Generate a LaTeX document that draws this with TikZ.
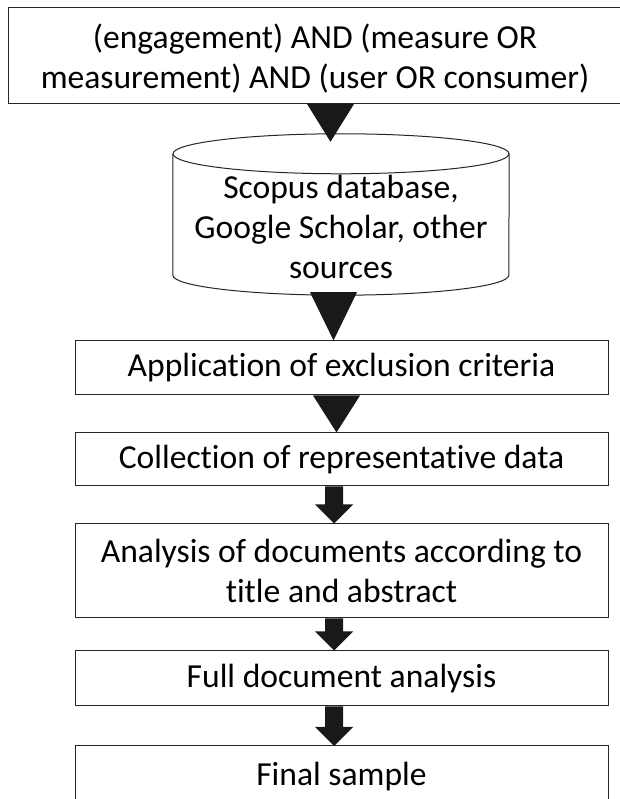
\documentclass[tikz,border=0pt]{standalone}
\usepackage{fontspec}
\setmainfont{Carlito}[Ligatures=NoCommon]
\usetikzlibrary{calc}
\tikzset{
  boxline/.style={draw=black!85, line width=1pt},
  flowbox/.style={boxline, rectangle, minimum width=533pt, inner sep=0pt, align=center},
  txt/.style={font=\fontsize{33.6}{40}\selectfont, align=center, inner sep=0pt},
  arrfill/.style={fill=black!90, draw=none}
}
\newcommand\blockarr[2]{%
  \fill[arrfill] ($(#1)+(-9,0)$) -- ($(#1)+(9,0)$) -- ($(#2)+(9,19)$) -- ($(#2)+(19,19)$) -- (#2) -- ($(#2)+(-19,19)$) -- ($(#2)+(-9,19)$) -- cycle;}
\newcommand\trarr[2]{%
  \fill[arrfill] ($(#1)+(-23.5,0)$) -- ($(#1)+(23.5,0)$) -- (#2) -- cycle;}
\begin{document}
\begin{tikzpicture}[x=1pt,y=1pt]
\useasboundingbox (0,0) rectangle (619,799);
% top query box
\draw[boxline] (8,695) rectangle (630,791);
\node[txt] (query) at (315,740) {(engagement) AND (measure OR\\measurement) AND (user OR consumer)};
% database cylinder (outline sized by an empty node)
\node[minimum width=336pt, minimum height=161pt, inner sep=0pt] (db) at (341,584.5) {};
\draw[boxline, fill=white] ($(db.north west)+(0,-20)$) -- ($(db.south west)+(0,20)$)
   arc[start angle=180, end angle=360, x radius=168pt, y radius=20pt]
   -- ($(db.north east)+(0,-20)$);
\draw[boxline] ($(db.north)+(0,-20)$) ellipse[x radius=168pt, y radius=20pt];
\node[txt] (dbtext) at (341,572) {Scopus database,\\Google Scholar, other\\sources};
% boxes
\node[flowbox, txt, minimum height=54pt] (app) at (341.5,431) {Application of exclusion criteria};
\node[flowbox, txt, minimum height=53pt] (coll) at (341.5,339.5) {Collection of representative data};
\node[flowbox, txt, minimum height=94pt] (anal) at (341.5,228) {Analysis of documents according to\\title and abstract};
\node[flowbox, txt, minimum height=55pt] (full) at (341.5,120.5) {Full document analysis};
\draw[boxline] (75,-20) -- (75,53) -- (608,53) -- (608,-20);
\node[txt] (final) at (341.5,22) {Final sample};
\coordinate (finaltop) at (341.5,53);
% arrow x-positions
\coordinate (x1) at (330.5,0);
\coordinate (x2) at (333.5,0);
\coordinate (x3) at (336.5,0);
\coordinate (x4) at (334,0);
% triangle connectors
\coordinate (t1a) at (x1 |- 0,695);
\coordinate (t1b) at ($(x1 |- db.north)+(0,-8)$);
\trarr{t1a}{t1b}
\coordinate (t2a) at ($(x2 |- db.south)+(0,3)$);
\coordinate (t2b) at (x2 |- app.north);
\trarr{t2a}{t2b}
\coordinate (t3a) at (x3 |- app.south);
\coordinate (t3b) at (x3 |- coll.north);
\trarr{t3a}{t3b}
% block arrows
\coordinate (b1a) at (x4 |- coll.south);
\coordinate (b1b) at (x4 |- anal.north);
\blockarr{b1a}{b1b}
\coordinate (b2a) at (x4 |- anal.south);
\coordinate (b2b) at (x4 |- full.north);
\blockarr{b2a}{b2b}
\coordinate (b3a) at (x4 |- full.south);
\coordinate (b3b) at (x4 |- finaltop);
\blockarr{b3a}{b3b}
\end{tikzpicture}
\end{document}
